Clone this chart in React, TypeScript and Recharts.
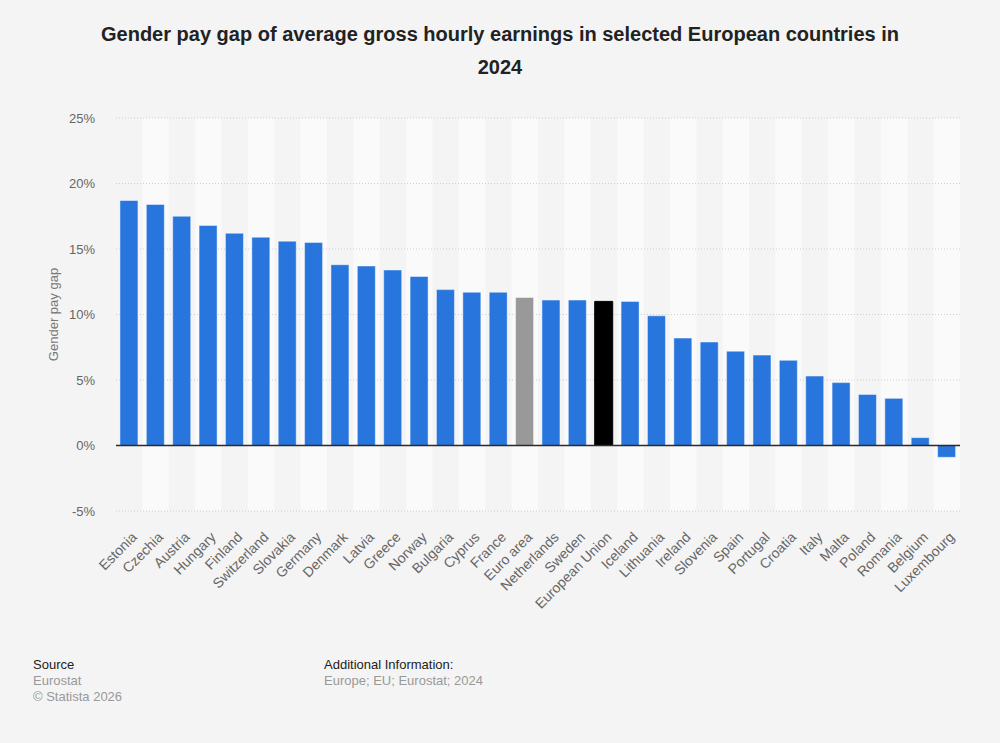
import { BarChart, Bar, XAxis, YAxis, CartesianGrid, ReferenceArea, ReferenceLine, Cell } from 'recharts'

// Gender pay gap 2024, % of male average gross hourly earnings
const countries = [
  'Estonia', 'Czechia', 'Austria', 'Hungary', 'Finland', 'Switzerland', 'Slovakia', 'Germany',
  'Denmark', 'Latvia', 'Greece', 'Norway', 'Bulgaria', 'Cyprus', 'France', 'Euro area',
  'Netherlands', 'Sweden', 'European Union', 'Iceland', 'Lithuania', 'Ireland', 'Slovenia', 'Spain',
  'Portugal', 'Croatia', 'Italy', 'Malta', 'Poland', 'Romania', 'Belgium', 'Luxembourg',
]
const gapValues = [
  18.7, 18.4, 17.5, 16.8, 16.2, 15.9, 15.6, 15.5,
  13.8, 13.7, 13.4, 12.9, 11.9, 11.7, 11.7, 11.3,
  11.1, 11.1, 11.0, 11.0, 9.9, 8.2, 7.9, 7.2,
  6.9, 6.5, 5.3, 4.8, 3.9, 3.6, 0.6, -0.9,
]
const yTicks = [-5, 0, 5, 10, 15, 20, 25]

const BAR_BLUE = '#2876dd'
const specialColors: Record<string, string> = {
  'Euro area': '#999999',
  'European Union': '#000000',
}

const data = countries.map((name, i) => ({ name, value: gapValues[i] }))

const FONT = '"Liberation Sans", Arial, Helvetica, sans-serif'

// rotated country names, right end tucked under each bar
const CountryTick = ({ x, y, payload }: any) => (
  <g transform={`translate(${x + 8.5},${y + 19}) rotate(-45)`}>
    <text textAnchor="end" fontSize={14} fill="#666" fontFamily={FONT}>
      {payload.value}
    </text>
  </g>
)

const App = () => {
  return (
    <div
      style={{
        position: 'absolute', left: 0, top: 0, width: 1000, height: 743,
        background: '#f4f4f4', fontFamily: FONT, overflow: 'hidden',
      }}
    >
      <div
        style={{
          position: 'absolute', left: 0, top: 18, width: 1000, textAlign: 'center',
          fontSize: 20, fontWeight: 'bold', lineHeight: '33px', color: '#222',
        }}
      >
        Gender pay gap of average gross hourly earnings in selected European countries in
        <br />
        2024
      </div>

      <div style={{ position: 'absolute', left: 0, top: 0 }}>
        <BarChart
          width={1000}
          height={640}
          data={data}
          margin={{ top: 118, right: 40, left: 0, bottom: 0 }}
          barCategoryGap="15%"
        >
          {countries.map((c, i) =>
            i % 2 === 1 ? (
              <ReferenceArea
                key={c}
                x1={c}
                x2={c}
                y1={-5}
                y2={25}
                fill="#fafafa"
                fillOpacity={1}
                stroke="none"
                zIndex={-200}
              />
            ) : null
          )}
          <CartesianGrid vertical={false} stroke="#cfcfcf" strokeDasharray="1 2" />
          <XAxis
            dataKey="name"
            interval={0}
            axisLine={false}
            tickLine={false}
            height={129}
            tick={<CountryTick />}
          />
          <YAxis
            domain={[-5, 25]}
            ticks={yTicks}
            tickFormatter={v => `${v}%`}
            axisLine={false}
            tickLine={false}
            tickMargin={15}
            width={116}
            tick={{ fontSize: 13, fill: '#666', fontFamily: FONT }}
            label={{
              value: 'Gender pay gap', angle: -90, position: 'center', dx: -5,
              style: { fontSize: 13, fill: '#777', fontFamily: FONT },
            }}
          />
          <Bar dataKey="value" isAnimationActive={false} stroke="rgba(255,255,255,0.45)" strokeWidth={1}>
            {data.map(d => (
              <Cell
                key={d.name}
                fill={specialColors[d.name] ?? BAR_BLUE}
                stroke={d.name === 'European Union' ? '#000000' : 'rgba(255,255,255,0.45)'}
              />
            ))}
          </Bar>
          <ReferenceLine y={0} stroke="#2b2b2b" strokeWidth={1.5} />
        </BarChart>
      </div>

      <div style={{ position: 'absolute', left: 33, top: 657, fontSize: 13, lineHeight: '16px' }}>
        <div style={{ color: '#222' }}>Source</div>
        <div style={{ color: '#999' }}>Eurostat</div>
        <div style={{ color: '#999' }}>© Statista 2026</div>
      </div>
      <div style={{ position: 'absolute', left: 324, top: 657, fontSize: 13, lineHeight: '16px' }}>
        <div style={{ color: '#222' }}>Additional Information:</div>
        <div style={{ color: '#999' }}>Europe; EU; Eurostat; 2024</div>
      </div>
    </div>
  )
}

export default App
